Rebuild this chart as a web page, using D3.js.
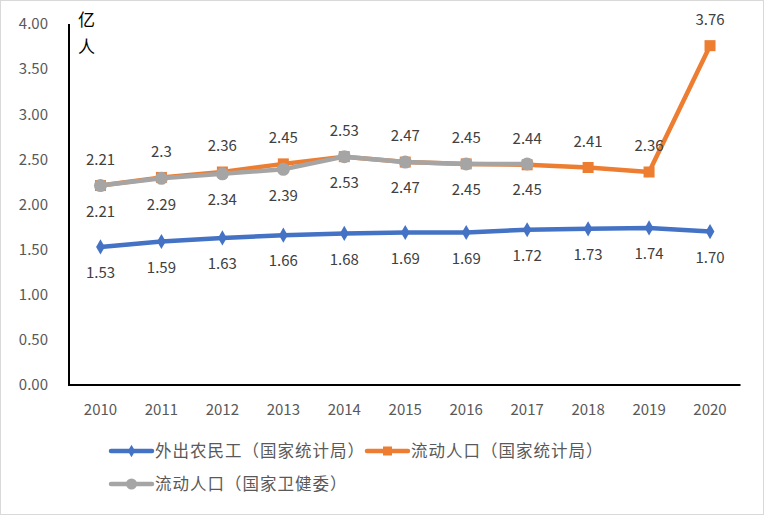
<!DOCTYPE html>
<html><head><meta charset="utf-8">
<script src="https://cdn.jsdelivr.net/npm/d3@7"></script>
<style>body{margin:0;background:#fff}svg{display:block}</style>
</head><body>
<svg id="c" width="764" height="515"></svg>
<script>
const years = ["2010","2011","2012","2013","2014","2015","2016","2017","2018","2019","2020"];
const migrantWorkers = [1.53,1.59,1.63,1.66,1.68,1.69,1.69,1.72,1.73,1.74,1.70];
const migrantWorkersLabels = ["1.53","1.59","1.63","1.66","1.68","1.69","1.69","1.72","1.73","1.74","1.70"];
const floatingNBS = [2.21,2.3,2.36,2.45,2.53,2.47,2.45,2.44,2.41,2.36,3.76];
const floatingNBSLabels = ["2.21","2.3","2.36","2.45","2.53","2.47","2.45","2.44","2.41","2.36","3.76"];
const floatingNHC = [2.21,2.29,2.34,2.39,2.53,2.47,2.45,2.45];
const floatingNHCLabels = ["2.21","2.29","2.34","2.39","2.53","2.47","2.45","2.45"];
const yTicks = [0,0.5,1,1.5,2,2.5,3,3.5,4];
const seriesNames = ["外出农民工（国家统计局）","流动人口（国家统计局）","流动人口（国家卫健委）"];

const svg = d3.select("#c");
const font = "'Noto Sans CJK SC','Noto Sans',sans-serif";
svg.append("rect").attr("x",0.5).attr("y",0.5).attr("width",763).attr("height",514)
  .attr("fill","#fff").attr("stroke","#d9d9d9");

const x = d3.scaleBand().domain(years).range([70,740.5]);
const y = d3.scaleLinear().domain([0,4]).range([385,24]);
const cx = d => x(d)+x.bandwidth()/2;

// y tick labels
svg.append("g").selectAll("text").data(yTicks).join("text")
  .attr("x",48).attr("y",d=>y(d)).attr("dy","0.35em").attr("text-anchor","end")
  .attr("font-family",font).attr("font-size",15).attr("fill","#595959")
  .text(d=>d3.format(".2f")(d));
// x tick labels
svg.append("g").selectAll("text").data(years).join("text")
  .attr("x",d=>cx(d)).attr("y",410).attr("dy","0.35em").attr("text-anchor","middle")
  .attr("font-family",font).attr("font-size",15).attr("fill","#595959")
  .text(d=>d);
// axes
svg.append("line").attr("x1",69).attr("x2",69).attr("y1",24).attr("y2",386).attr("stroke","#000").attr("stroke-width",2);
svg.append("line").attr("x1",68).attr("x2",740.5).attr("y1",385).attr("y2",385).attr("stroke","#000").attr("stroke-width",2);
// unit
svg.append("text").attr("x",78).attr("y",26).attr("font-family",font).attr("font-size",17).attr("fill","#000").text("亿");
svg.append("text").attr("x",78).attr("y",53).attr("font-family",font).attr("font-size",17).attr("fill","#000").text("人");

const series = [
  {vals:migrantWorkers, labels:migrantWorkersLabels, color:"#4472C4", marker:"diamond", off:26},
  {vals:floatingNBS, labels:floatingNBSLabels, color:"#ED7D31", marker:"square", off:-26},
  {vals:floatingNHC, labels:floatingNHCLabels, color:"#A5A5A5", marker:"circle", off:26}
];
const line = d3.line().x(d=>cx(d.yr)).y(d=>y(d.v));
function drawMarker(g, kind, color, px, py, size){
  if(kind==="diamond"){
    g.append("path").attr("d",d3.symbol(d3.symbolDiamond,size*size*0.55)()).attr("transform",`translate(${px},${py})`).attr("fill",color);
  } else if(kind==="square"){
    g.append("rect").attr("x",px-size/2).attr("y",py-size/2).attr("width",size).attr("height",size).attr("fill",color);
  } else {
    g.append("circle").attr("cx",px).attr("cy",py).attr("r",size/2).attr("fill",color);
  }
}
series.forEach(s=>{
  const pts = s.vals.map((v,i)=>({yr:years[i],v}));
  const g = svg.append("g");
  g.append("path").attr("d",line(pts)).attr("fill","none").attr("stroke",s.color).attr("stroke-width",4.5).attr("stroke-linejoin","round").attr("stroke-linecap","round");
  pts.forEach(p=>drawMarker(g,s.marker,s.color,cx(p.yr),y(p.v),s.marker==="circle"?13:11));
});
series.forEach(s=>{
  svg.append("g").selectAll("text").data(s.vals).join("text")
    .attr("x",(d,i)=>cx(years[i])).attr("y",d=>y(d)+s.off).attr("dy","0.35em").attr("text-anchor","middle")
    .attr("font-family",font).attr("font-size",15).attr("fill","#404040")
    .text((d,i)=>s.labels[i]);
});

// legend
const leg = [
  {x:111,y:451,i:0},{x:367,y:451,i:1},{x:111,y:484,i:2}
];
leg.forEach(l=>{
  const s = series[l.i];
  const g = svg.append("g");
  g.append("line").attr("x1",l.x).attr("x2",l.x+41).attr("y1",l.y).attr("y2",l.y).attr("stroke",s.color).attr("stroke-width",4.5).attr("stroke-linecap","round");
  drawMarker(g,s.marker,s.color,l.x+20.5,l.y,s.marker==="circle"?11:9);
  g.append("text").attr("x",l.x+44).attr("y",l.y).attr("dy","0.35em").attr("font-family",font).attr("font-size",16.5).attr("letter-spacing",1).attr("fill","#595959").text(seriesNames[l.i]);
});
</script>
</body></html>
